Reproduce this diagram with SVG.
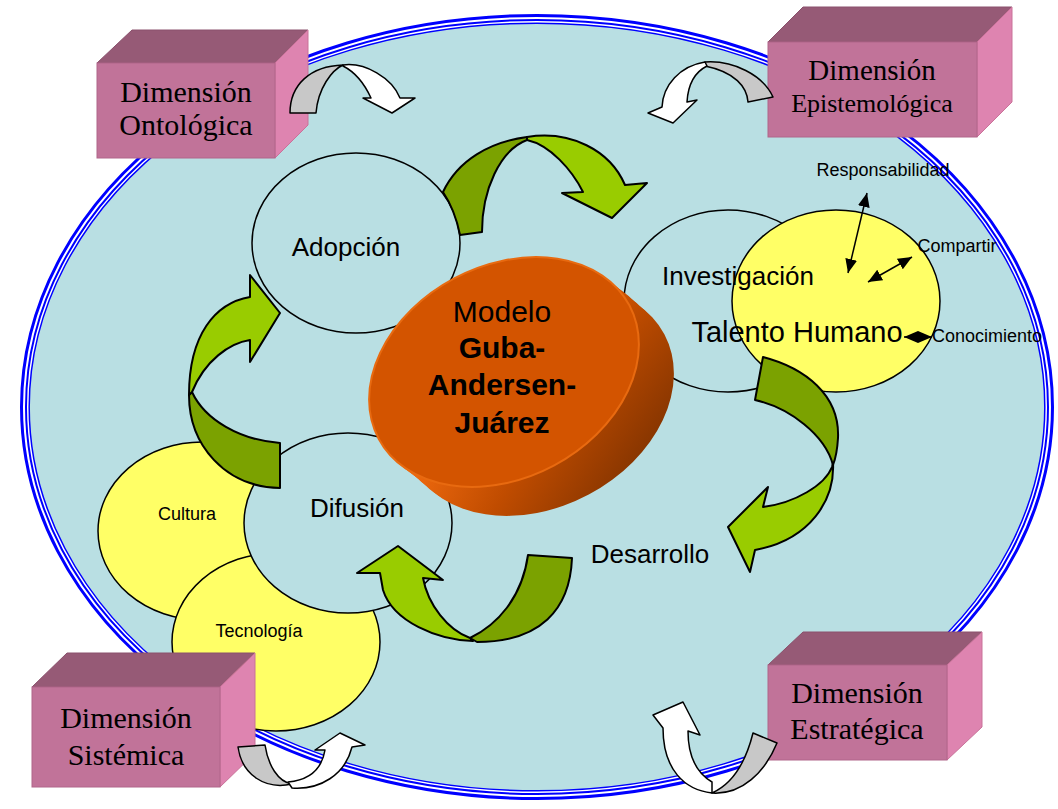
<svg xmlns="http://www.w3.org/2000/svg" width="1058" height="809" viewBox="0 0 1058 809">
<style>
.circ{fill:#B9DFE3;stroke:#000;stroke-width:1.5}
.yel{fill:#FFFF66;stroke:#000;stroke-width:1.5}
.lbl{font-family:"Liberation Sans",Arial,sans-serif;fill:#000;text-anchor:middle}
.dim{font-family:"Liberation Serif","Times New Roman",serif;fill:#000;text-anchor:middle}
.front{fill:#C17399;stroke:#B0668A;stroke-width:1}
.top{fill:#965A76;stroke:#8A506C;stroke-width:1}
.side{fill:#DE84B0;stroke:#C97299;stroke-width:1}
.gd{fill:#7BA200;stroke:#000;stroke-width:2;stroke-linejoin:round}
.gl{fill:#99CC00;stroke:#000;stroke-width:2;stroke-linejoin:round}
.ag{fill:#C8C8C8;stroke:#000;stroke-width:1.5;stroke-linejoin:round}
.aw{fill:#FFFFFF;stroke:#000;stroke-width:1.5;stroke-linejoin:round}
.ln{stroke:#000;stroke-width:1.5;fill:none}
.bl{fill:none;stroke:#0000FF}
</style>
<defs>
<marker id="ah" markerUnits="userSpaceOnUse" markerWidth="16" markerHeight="14" refX="14" refY="6" orient="auto-start-reverse" viewBox="0 0 16 14">
<path d="M0,0 L14,6 L0,12 Z" fill="#000"/>
</marker>
<linearGradient id="cylside" gradientUnits="userSpaceOnUse" x1="560" y1="320" x2="650" y2="500">
<stop offset="0" stop-color="#F26B0F"/>
<stop offset="0.45" stop-color="#C04C00"/>
<stop offset="1" stop-color="#7A3000"/>
</linearGradient>
</defs>

<g id="background">
<ellipse cx="537" cy="407" rx="508" ry="384" fill="#B9DFE3"/>
<ellipse class="bl" cx="537" cy="407" rx="515.5" ry="391.5" stroke-width="3"/>
<ellipse class="bl" cx="537" cy="407" rx="511" ry="387" stroke-width="2"/>
<ellipse class="bl" cx="537" cy="407" rx="507.8" ry="383.8" stroke-width="1.5"/>
</g>

<g id="node-adopcion"><ellipse class="circ" cx="356" cy="243" rx="104" ry="90"/></g>
<g id="node-investigacion"><ellipse class="circ" cx="728" cy="301" rx="104" ry="91"/></g>
<g id="node-talento"><ellipse class="yel" cx="836" cy="301" rx="104" ry="91"/></g>
<g id="node-cultura"><ellipse class="yel" cx="202" cy="531" rx="104" ry="89"/></g>
<g id="node-tecnologia"><ellipse class="yel" cx="276" cy="642" rx="104" ry="89"/></g>
<g id="node-difusion"><ellipse class="circ" cx="348" cy="523" rx="104" ry="90"/></g>

<g id="node-modelo">
<g fill="url(#cylside)">
<ellipse cx="539" cy="401" rx="142" ry="106" transform="rotate(-28 539 401)"/>
<ellipse cx="535" cy="398" rx="142" ry="106" transform="rotate(-28 535 398)"/>
<ellipse cx="531" cy="394" rx="142" ry="106" transform="rotate(-28 531 394)"/>
<ellipse cx="527" cy="391" rx="142" ry="106" transform="rotate(-28 527 391)"/>
<ellipse cx="523" cy="387" rx="142" ry="106" transform="rotate(-28 523 387)"/>
<ellipse cx="519" cy="384" rx="142" ry="106" transform="rotate(-28 519 384)"/>
<ellipse cx="515" cy="381" rx="142" ry="106" transform="rotate(-28 515 381)"/>
<ellipse cx="511" cy="378" rx="142" ry="106" transform="rotate(-28 511 378)"/>
<ellipse cx="507" cy="375" rx="142" ry="106" transform="rotate(-28 507 375)"/>
</g>
<ellipse cx="504" cy="372" rx="142" ry="106" transform="rotate(-28 504 372)" fill="#D35400" stroke="#E86A10" stroke-width="2"/>
<text class="lbl" x="502" y="322" font-size="30">Modelo</text>
<text class="lbl" x="502" y="358" font-size="30" font-weight="bold">Guba-</text>
<text class="lbl" x="502" y="395" font-size="30" font-weight="bold">Andersen-</text>
<text class="lbl" x="502" y="433" font-size="30" font-weight="bold">Juárez</text>
</g>

<g id="connectors">
<path class="gd" d="M460,235 L482,232 C482,190 500,150 527,140 L527,137 C490,142 458,160 443,192 Q455,210 460,235 Z"/>
<path class="gl" d="M527,137 C570,130 610,150 625,185 L647,183 L612,218 L562,193 L583,192 C572,170 550,145 527,140 Z"/>
<path class="gd" d="M763,357 C805,368 840,395 838,438 Q837,455 833,465 C825,435 790,408 755,400 Z"/>
<path class="gl" d="M833,463 C835,500 810,540 755,550 L750,572 L728,527 L768,487 L763,507 C795,503 825,485 832,467 Z"/>
<path class="gd" d="M572,558 C570,610 540,642 477,642 L470,638 C497,625 522,598 528,555 Z"/>
<path class="gl" d="M473,641 C438,640 393,622 383,590 L380,573 L357,573 L398,546 L443,580 L423,578 C428,605 448,630 470,638 Z"/>
<path class="gd" d="M189,395 C189,445 225,487 280,488 L280,443 C240,440 205,420 192,392 Z"/>
<path class="gl" d="M250,297 C215,303 189,335 189,395 L192,392 C205,360 230,343 250,340 L250,362 L280,313 L250,275 Z"/>
<line class="ln" x1="867" y1="193" x2="848" y2="273" marker-start="url(#ah)" marker-end="url(#ah)"/>
<line class="ln" x1="912" y1="257" x2="868" y2="282" marker-start="url(#ah)" marker-end="url(#ah)"/>
<line class="ln" x1="904" y1="337" x2="932" y2="337" marker-start="url(#ah)" marker-end="url(#ah)"/>
</g>

<g id="node-ontologica">
<polygon class="top" points="97,63 132,30 308,30 275,63"/>
<polygon class="side" points="275,63 308,30 308,125 275,158"/>
<rect class="front" x="97" y="63" width="178" height="95"/>
<text class="dim" x="186" y="102" font-size="30">Dimensión</text>
<text class="dim" x="186" y="135" font-size="30">Ontológica</text>
</g>
<g id="node-epistemologica">
<polygon class="top" points="768,42 803,7 1012,7 977,42"/>
<polygon class="side" points="977,42 1012,7 1012,102 977,137"/>
<rect class="front" x="768" y="42" width="209" height="95"/>
<text class="dim" x="872" y="80" font-size="29">Dimensión</text>
<text class="dim" x="872" y="112" font-size="26">Epistemológica</text>
</g>
<g id="node-sistemica">
<polygon class="top" points="32,687 67,653 255,653 220,687"/>
<polygon class="side" points="220,687 255,653 255,753 220,787"/>
<rect class="front" x="32" y="687" width="188" height="100"/>
<text class="dim" x="126" y="728" font-size="30">Dimensión</text>
<text class="dim" x="126" y="765" font-size="30">Sistémica</text>
</g>
<g id="node-estrategica">
<polygon class="top" points="768,665 803,632 982,632 947,665"/>
<polygon class="side" points="947,665 982,632 982,727 947,760"/>
<rect class="front" x="768" y="665" width="179" height="95"/>
<text class="dim" x="857" y="703" font-size="30">Dimensión</text>
<text class="dim" x="857" y="739" font-size="30">Estratégica</text>
</g>

<g id="dimension-arrows">
<path class="ag" d="M290,113 C290,85 310,66 343,65 C332,70 318,88 316,113 Z"/>
<path class="aw" d="M343,65 C365,62 392,78 400,98 L415,98 L392,113 L363,98 L371,98 C365,85 355,72 343,66 Z"/>
<path class="ag" d="M705,62 C733,60 763,75 773,97 L748,102 C747,87 735,72 705,66 Z"/>
<path class="aw" d="M705,62 C680,66 663,85 662,107 L648,113 L673,123 L697,100 L687,102 C688,85 695,72 707,66 Z"/>
<path class="ag" d="M238,747 L265,745 C268,765 278,782 292,784 C265,790 242,775 238,747 Z"/>
<path class="aw" d="M292,788 C320,790 345,775 352,747 L365,745 L340,733 L315,750 L325,750 C322,768 310,780 288,782 Z"/>
<path class="ag" d="M753,733 L777,743 C765,772 742,795 712,793 C730,785 745,765 753,733 Z"/>
<path class="aw" d="M712,793 C685,790 663,770 663,728 L653,715 L683,702 L700,735 L688,731 C688,755 695,772 712,782 Z"/>
</g>

<g id="labels">
<text class="lbl" x="346" y="256" font-size="26">Adopción</text>
<text class="lbl" x="738" y="285" font-size="26">Investigación</text>
<text class="lbl" x="797" y="342" font-size="29">Talento Humano</text>
<text class="lbl" x="357" y="517" font-size="26">Difusión</text>
<text class="lbl" x="650" y="563" font-size="26">Desarrollo</text>
<text class="lbl" x="187" y="520" font-size="18">Cultura</text>
<text class="lbl" x="259" y="637" font-size="18">Tecnología</text>
<text class="lbl" x="883" y="176" font-size="18">Responsabilidad</text>
<text class="lbl" x="957" y="252" font-size="18">Compartir</text>
<text class="lbl" x="987" y="342" font-size="18">Conocimiento</text>
</g>
</svg>
